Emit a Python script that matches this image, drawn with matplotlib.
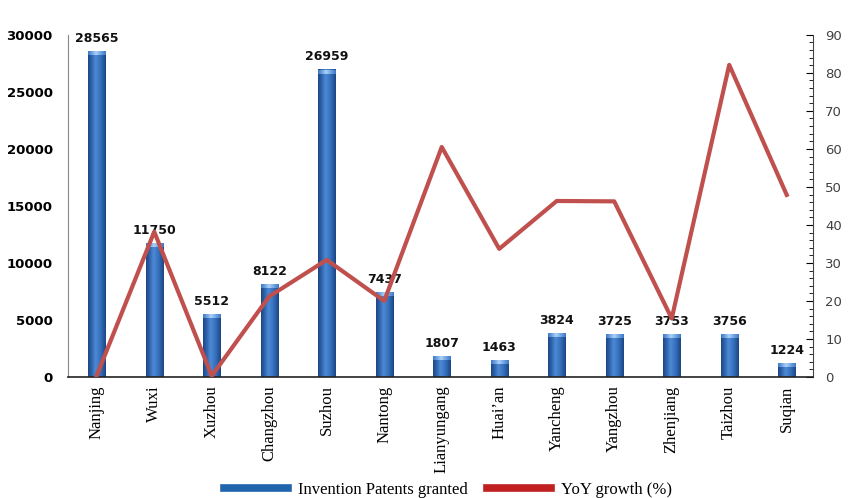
import matplotlib.pyplot as plt
import numpy as np
from matplotlib.lines import Line2D
from matplotlib.colors import LinearSegmentedColormap

cities = ["Nanjing", "Wuxi", "Xuzhou", "Changzhou", "Suzhou", "Nantong", "Lianyungang",
          "Huai\u2019an", "Yancheng", "Yangzhou", "Zhenjiang", "Taizhou", "Suqian"]
patents = [28565, 11750, 5512, 8122, 26959, 7437, 1807, 1463, 3824, 3725, 3753, 3756, 1224]
growth = [0.4, 38.2, 0.3, 21.2, 30.8, 20.0, 60.5, 33.7, 46.3, 46.2, 15.4, 82.1, 47.9]

fig = plt.figure(figsize=(8.5, 4.98), dpi=100)
ax = fig.add_axes([0.08, 0.243, 0.876, 0.687])
ax2 = ax.twinx()

x = np.arange(len(cities))
w = 0.3

# cylinder look: dark edges, lighter band left of centre
body = LinearSegmentedColormap.from_list(
    "body", [(0, "#1c4684"), (0.2, "#2f63ac"), (0.42, "#4d8ad6"),
             (0.7, "#3670bd"), (1, "#1c4684")])
top = LinearSegmentedColormap.from_list(
    "top", [(0, "#3a78c8"), (0.45, "#a9d0f7"), (1, "#3a78c8")])
grad = np.linspace(0, 1, 64)[np.newaxis, :]

bars = ax.bar(x, patents, width=w, color="#3a74c6", zorder=2)
for b in bars:
    bx, bw, bh = b.get_x(), b.get_width(), b.get_height()
    ax.imshow(grad, extent=[bx, bx + bw, 0, bh], cmap=body, aspect="auto", zorder=3)
    cap = min(bh, 350)
    ax.imshow(grad, extent=[bx, bx + bw, bh - cap, bh], cmap=top, aspect="auto", zorder=4)

for xi, v in zip(x, patents):
    ax.text(xi, v + 550, str(v), ha="center", va="bottom", fontsize=9,
            fontweight="bold", color="#111111", zorder=6)

ax.set_xlim(-0.5, 12.45)
ax.set_ylim(0, 30000)
ax.set_yticks(np.arange(0, 30001, 5000))
ax.tick_params(axis="y", length=0, pad=11, labelsize=9.5)
for t in ax.get_yticklabels():
    t.set_fontweight("bold")
ax.set_xticks(x)
ax.set_xticklabels(cities, rotation=90, fontfamily="Liberation Serif", fontsize=12)
ax.tick_params(axis="x", length=0, pad=6)

ax2.plot(x, growth, color="#c0504d", lw=3, zorder=5)
ax2.set_ylim(0, 90)
ax2.set_yticks(np.arange(0, 91, 10))
ax2.set_yticks(np.arange(0, 91, 2), minor=True)
ax2.tick_params(axis="y", which="major", direction="in", length=5, labelsize=9.5,
                labelcolor="#404040", pad=9)
ax2.tick_params(axis="y", which="minor", direction="in", length=3)

ax.set_zorder(ax2.get_zorder() - 1)
ax2.patch.set_visible(False)

for a in (ax, ax2):
    a.spines["top"].set_visible(False)
ax.spines["left"].set_color("#888888")
ax2.spines["left"].set_visible(False)
ax2.spines["right"].set_color("#444444")
ax2.spines["bottom"].set_color("#222222")
ax2.spines["bottom"].set_linewidth(1.2)
ax.spines["bottom"].set_visible(False)
ax.spines["right"].set_visible(False)

handles = [Line2D([], [], color="#2166ac", lw=5.5),
           Line2D([], [], color="#c0201f", lw=5.5)]
fig.legend(handles, ["Invention Patents granted", "YoY growth (%)"],
           loc="lower center", bbox_to_anchor=(0.527, -0.03), ncol=2, frameon=False,
           prop={"family": "Liberation Serif", "size": 12}, handlelength=3.8,
           handletextpad=0.6, columnspacing=1.2)

fig.savefig("out.png", dpi=100)
